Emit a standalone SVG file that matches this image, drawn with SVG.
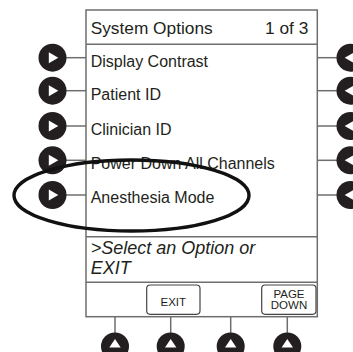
<svg xmlns="http://www.w3.org/2000/svg" width="353" height="352" viewBox="0 0 353 352">
<defs>
<style>
.frame{fill:#fff;stroke:#6e6e6e;stroke-width:1.5}
.sep{stroke:#6e6e6e;stroke-width:1.5;fill:none}
.lead{stroke:#6e6e6e;stroke-width:1.5;fill:none}
.key{fill:#231f20}
.tri{fill:#fff}
.t{font-family:"Liberation Sans",Arial,sans-serif;fill:#231f20}
.hdr{font-size:17.3px}
.item{font-size:16px}
.prompt{font-size:18px;font-style:italic}
.btn{fill:#fff;stroke:#444;stroke-width:1.2}
.btxt{font-size:11.5px;text-anchor:middle}
.ring{fill:none;stroke:#111;stroke-width:3.4}
</style>
</defs>
<g id="screen">
<rect class="frame" x="86" y="10" width="231.3" height="306.7"/>
<line class="sep" x1="86" y1="44.3" x2="317.3" y2="44.3"/>
<line class="sep" x1="86" y1="236.7" x2="317.3" y2="236.7"/>
<line class="sep" x1="86" y1="282.3" x2="317.3" y2="282.3"/>
<text class="t hdr" x="90.7" y="34">System Options</text>
<text class="t hdr" x="308.3" y="34" text-anchor="end">1 of 3</text>
</g>
<g id="connectors">
<line class="lead" x1="66" y1="57.7" x2="86" y2="57.7"/>
<line class="lead" x1="66" y1="90.7" x2="86" y2="90.7"/>
<line class="lead" x1="66" y1="126" x2="86" y2="126"/>
<line class="lead" x1="66" y1="160.3" x2="86" y2="160.3"/>
<line class="lead" x1="66" y1="195" x2="86" y2="195"/>
<line class="lead" x1="317.3" y1="57.7" x2="337" y2="57.7"/>
<line class="lead" x1="317.3" y1="90.7" x2="337" y2="90.7"/>
<line class="lead" x1="317.3" y1="126" x2="337" y2="126"/>
<line class="lead" x1="317.3" y1="160.3" x2="337" y2="160.3"/>
<line class="lead" x1="317.3" y1="195" x2="337" y2="195"/>
<line class="lead" x1="115" y1="316.7" x2="115" y2="333"/>
<line class="lead" x1="170.7" y1="316.7" x2="170.7" y2="333"/>
<line class="lead" x1="230.7" y1="316.7" x2="230.7" y2="333"/>
<line class="lead" x1="287.3" y1="316.7" x2="287.3" y2="333"/>
</g>
<g id="opt-display-contrast">
<circle class="key" cx="52.5" cy="57.7" r="14"/>
<polygon class="tri" points="48.8,52.2 48.8,63.2 58.3,57.7"/>
<text class="t item" x="90.7" y="66.5">Display Contrast</text>
<circle class="key" cx="350.5" cy="57.7" r="14"/>
<polygon class="tri" points="354.2,52.2 354.2,63.2 344.7,57.7"/>
</g>
<g id="opt-patient-id">
<circle class="key" cx="52.5" cy="90.7" r="14"/>
<polygon class="tri" points="48.8,85.2 48.8,96.2 58.3,90.7"/>
<text class="t item" x="90.7" y="100">Patient ID</text>
<circle class="key" cx="350.5" cy="90.7" r="14"/>
<polygon class="tri" points="354.2,85.2 354.2,96.2 344.7,90.7"/>
</g>
<g id="opt-clinician-id">
<circle class="key" cx="52.5" cy="126" r="14"/>
<polygon class="tri" points="48.8,120.5 48.8,131.5 58.3,126"/>
<text class="t item" x="90.7" y="135">Clinician ID</text>
<circle class="key" cx="350.5" cy="126" r="14"/>
<polygon class="tri" points="354.2,120.5 354.2,131.5 344.7,126"/>
</g>
<g id="opt-power-down">
<circle class="key" cx="52.5" cy="160.3" r="14"/>
<polygon class="tri" points="48.8,154.8 48.8,165.8 58.3,160.3"/>
<text class="t item" x="90.7" y="169">Power Down All Channels</text>
<circle class="key" cx="350.5" cy="160.3" r="14"/>
<polygon class="tri" points="354.2,154.8 354.2,165.8 344.7,160.3"/>
</g>
<g id="opt-anesthesia-mode">
<circle class="key" cx="52.5" cy="195" r="14"/>
<polygon class="tri" points="48.8,189.5 48.8,200.5 58.3,195"/>
<text class="t item" x="90.7" y="203.3">Anesthesia Mode</text>
<circle class="key" cx="350.5" cy="195" r="14"/>
<polygon class="tri" points="354.2,189.5 354.2,200.5 344.7,195"/>
</g>
<g id="prompt">
<text class="t prompt" x="90.7" y="253.5">&gt;Select an Option or</text>
<text class="t prompt" x="90.7" y="274">EXIT</text>
</g>
<g id="softkey-1">
<circle class="key" cx="115" cy="346.5" r="14"/>
<polygon class="tri" points="115,339 109.3,347.5 120.7,347.5"/>
</g>
<g id="softkey-exit">
<rect class="btn" x="146.7" y="285" width="53.3" height="29.3" rx="3.5"/>
<text class="t btxt" x="173.3" y="306">EXIT</text>
<circle class="key" cx="170.7" cy="346.5" r="14"/>
<polygon class="tri" points="170.7,339 165,347.5 176.4,347.5"/>
</g>
<g id="softkey-3">
<circle class="key" cx="230.7" cy="346.5" r="14"/>
<polygon class="tri" points="230.7,339 225,347.5 236.4,347.5"/>
</g>
<g id="softkey-page-down">
<rect class="btn" x="261.7" y="285" width="54.3" height="29.3" rx="3.5"/>
<text class="t btxt" x="289" y="297.7">PAGE</text>
<text class="t btxt" x="289" y="308.5">DOWN</text>
<circle class="key" cx="287.3" cy="346.5" r="14"/>
<polygon class="tri" points="287.3,339 281.6,347.5 293,347.5"/>
</g>
<g id="highlight">
<ellipse class="ring" cx="131.5" cy="195.5" rx="117.5" ry="35.5"/>
</g>
</svg>
